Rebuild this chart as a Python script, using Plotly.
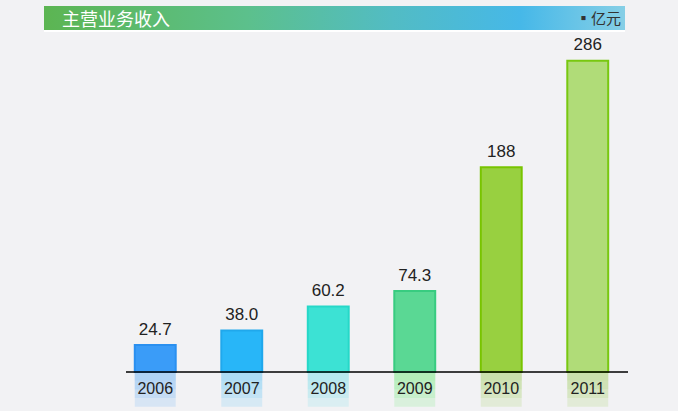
import base64
import plotly.graph_objects as go

# ---- data ----
years = ["2006", "2007", "2008", "2009", "2010", "2011"]
revenue = [24.7, 38.0, 60.2, 74.3, 188, 286]
value_labels = ["24.7", "38.0", "60.2", "74.3", "188", "286"]
title_text = "主营业务收入"
unit_text = "▪亿元"

# ---- styles ----
fill_colors = ["#3a9cf8", "#28b6f8", "#3ce2d4", "#5ad894", "#98d040", "#b0dc78"]
line_colors = ["#2a90f0", "#20a8ec", "#26d8c8", "#38cc80", "#78c400", "#78c810"]
refl_colors = ["#9ccaf6", "#98d6f4", "#a4e6ee", "#a0eea8", "#c0dc98", "#c0dc98"]
FONT = "Liberation Sans, Arial, sans-serif"

W, H = 678, 411
L, R, T, B = 112, 47, 40, 1
pw, ph = W - L - R, H - T - B
y_lo, y_hi = -35.0, 305.0


def px_x(x):
    return (x - L) / pw


def px_y(y):
    return 1 - (y - T) / ph


fig = go.Figure()

# reflections (fading, layered)
for depth in (8, 16, 24, 32):
    fig.add_trace(go.Bar(
        x=years, y=[-depth] * len(years), marker=dict(color=refl_colors, line=dict(width=0)),
        opacity=0.3, hoverinfo="skip", showlegend=False))

# main bars
fig.add_trace(go.Bar(
    x=years, y=revenue,
    marker=dict(color=fill_colors, line=dict(color=line_colors, width=2)),
    showlegend=False))

# value labels above bars
fig.add_trace(go.Scatter(
    x=years, y=revenue, mode="markers+text", text=value_labels, textposition="top center",
    marker=dict(size=8, opacity=0),
    textfont=dict(size=17, color="#222222", family=FONT),
    cliponaxis=False, hoverinfo="skip", showlegend=False))

# year labels inside the reflection area
fig.add_trace(go.Scatter(
    x=years, y=[-17] * len(years), mode="text", text=years,
    textfont=dict(size=16, color="#222222", family=FONT),
    hoverinfo="skip", showlegend=False))

# header gradient image
hw, hh = 581, 26
svg = (f'<svg xmlns="http://www.w3.org/2000/svg" width="{hw}" height="{hh}">'
       '<defs><linearGradient id="g" x1="0" x2="1" y1="0" y2="0">'
       '<stop offset="0" stop-color="#5cb552"/>'
       '<stop offset="0.35" stop-color="#5cc08c"/>'
       '<stop offset="0.6" stop-color="#52bcc4"/>'
       '<stop offset="0.82" stop-color="#46b8e8"/>'
       '<stop offset="1" stop-color="#86cfe6"/>'
       '</linearGradient></defs>'
       f'<rect width="{hw}" height="24" fill="url(#g)"/>'
       f'<rect y="24" width="{hw}" height="2" fill="#ffffff"/></svg>')
src = "data:image/svg+xml;base64," + base64.b64encode(svg.encode()).decode()
fig.add_layout_image(dict(source=src, xref="paper", yref="paper",
                          x=px_x(44), y=px_y(6), sizex=hw / pw, sizey=hh / ph,
                          xanchor="left", yanchor="top", sizing="stretch", layer="below"))

fig.add_annotation(x=px_x(60), y=px_y(18), xref="paper", yref="paper", text=title_text,
                   showarrow=False, xanchor="left", yanchor="middle",
                   font=dict(size=18, color="#ffffff", family="Noto Sans CJK SC"))
fig.add_annotation(x=px_x(623), y=px_y(18), xref="paper", yref="paper", text=unit_text,
                   showarrow=False, xanchor="right", yanchor="middle",
                   font=dict(size=15, color="#333333", family="Noto Sans CJK SC"))

# baseline
fig.add_shape(type="line", xref="paper", yref="y", x0=px_x(126), x1=px_x(628), y0=0, y1=0,
              line=dict(color="#000000", width=1.5))

fig.update_layout(
    width=W, height=H, margin=dict(l=L, r=R, t=T, b=B),
    paper_bgcolor="#f2f2f4", plot_bgcolor="#f2f2f4",
    barmode="overlay", bargap=0.527,
    xaxis=dict(visible=False, type="category"),
    yaxis=dict(visible=False, range=[y_lo, y_hi]),
)

fig.write_html("out.html")
